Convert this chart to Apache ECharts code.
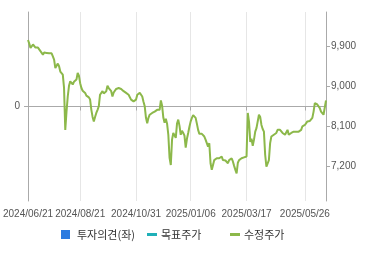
<!DOCTYPE html>
<html>
<head>
<meta charset="utf-8">
<script src="https://cdn.jsdelivr.net/npm/echarts@6/dist/echarts.min.js"></script>
<style>
html,body{margin:0;padding:0;background:#fff;}
#chart{width:370px;height:255px;}
</style>
</head>
<body>
<div id="chart"></div>
<script>
const dates = [
"2024/06/21","2024/06/24","2024/06/25","2024/06/26","2024/06/27","2024/06/28",
"2024/07/01","2024/07/02","2024/07/03","2024/07/04","2024/07/05","2024/07/08","2024/07/09","2024/07/10","2024/07/11","2024/07/12","2024/07/15","2024/07/16","2024/07/17","2024/07/18","2024/07/19","2024/07/22","2024/07/23","2024/07/24","2024/07/25","2024/07/26","2024/07/29","2024/07/30","2024/07/31",
"2024/08/01","2024/08/02","2024/08/05","2024/08/06","2024/08/07","2024/08/08","2024/08/09","2024/08/12","2024/08/13","2024/08/14","2024/08/16","2024/08/19","2024/08/20","2024/08/21","2024/08/22","2024/08/23","2024/08/26","2024/08/27","2024/08/28","2024/08/29","2024/08/30",
"2024/09/02","2024/09/03","2024/09/04","2024/09/05","2024/09/06","2024/09/09","2024/09/10","2024/09/11","2024/09/12","2024/09/13","2024/09/19","2024/09/20","2024/09/23","2024/09/24","2024/09/25","2024/09/26","2024/09/27","2024/09/30",
"2024/10/02","2024/10/04","2024/10/07","2024/10/08","2024/10/10","2024/10/11","2024/10/14","2024/10/15","2024/10/16","2024/10/17","2024/10/18","2024/10/21","2024/10/22","2024/10/23","2024/10/24","2024/10/25","2024/10/28","2024/10/29","2024/10/30","2024/10/31",
"2024/11/01","2024/11/04","2024/11/05","2024/11/06","2024/11/07","2024/11/08","2024/11/11","2024/11/12","2024/11/13","2024/11/14","2024/11/15","2024/11/18","2024/11/19","2024/11/20","2024/11/21","2024/11/22","2024/11/25","2024/11/26","2024/11/27","2024/11/28","2024/11/29",
"2024/12/02","2024/12/03","2024/12/04","2024/12/05","2024/12/06","2024/12/09","2024/12/10","2024/12/11","2024/12/12","2024/12/13","2024/12/16","2024/12/17","2024/12/18","2024/12/19","2024/12/20","2024/12/23","2024/12/24","2024/12/26","2024/12/27","2024/12/30",
"2025/01/02","2025/01/03","2025/01/06","2025/01/07","2025/01/08","2025/01/09","2025/01/10","2025/01/13","2025/01/14","2025/01/15","2025/01/16","2025/01/17","2025/01/20","2025/01/21","2025/01/22","2025/01/23","2025/01/24","2025/01/31",
"2025/02/03","2025/02/04","2025/02/05","2025/02/06","2025/02/07","2025/02/10","2025/02/11","2025/02/12","2025/02/13","2025/02/14","2025/02/17","2025/02/18","2025/02/19","2025/02/20","2025/02/21","2025/02/24","2025/02/25","2025/02/26","2025/02/27","2025/02/28",
"2025/03/04","2025/03/05","2025/03/06","2025/03/07","2025/03/10","2025/03/11","2025/03/12","2025/03/13","2025/03/14","2025/03/17","2025/03/18","2025/03/19","2025/03/20","2025/03/21","2025/03/24","2025/03/25","2025/03/26","2025/03/27","2025/03/28","2025/03/31",
"2025/04/01","2025/04/02","2025/04/03","2025/04/04","2025/04/07","2025/04/08","2025/04/09","2025/04/10","2025/04/11","2025/04/14","2025/04/15","2025/04/16","2025/04/17","2025/04/18","2025/04/21","2025/04/22","2025/04/23","2025/04/24","2025/04/25","2025/04/28","2025/04/29","2025/04/30",
"2025/05/02","2025/05/07","2025/05/08","2025/05/09","2025/05/12","2025/05/13","2025/05/14","2025/05/15","2025/05/16","2025/05/19","2025/05/20","2025/05/21","2025/05/22","2025/05/23","2025/05/26","2025/05/27","2025/05/28","2025/05/29","2025/05/30",
"2025/06/02","2025/06/04","2025/06/05","2025/06/09","2025/06/10","2025/06/11","2025/06/12","2025/06/13","2025/06/16","2025/06/17","2025/06/18","2025/06/19","2025/06/20"
];

const adjPrice = [
10040,9960,9860,9890,9940,9900,9870,9850,9870,9830,
9790,9760,9710,9760,9790,9750,9710,9740,9760,9740,
9670,9600,9410,9460,9510,9450,9330,9300,9260,8970,
8020,8430,8770,9010,9110,9080,9040,9100,9080,9150,
9300,9240,9070,8960,8900,8870,8850,8790,8770,8750,
8700,8470,8310,8210,8310,8400,8470,8550,8810,8850,
8890,8840,8810,8890,9010,8960,8920,8890,8770,8860,
8890,8940,8900,8960,8950,8940,8920,8890,8870,8850,
8850,8810,8770,8700,8680,8660,8660,8700,8810,8830,
8850,8810,8770,8650,8550,8290,8170,8290,8360,8380,
8400,8420,8430,8400,8470,8430,8470,8680,8560,8290,
8180,8270,8160,7910,7390,7230,7800,7950,7980,7840,
8160,8250,8110,7910,8000,7950,7890,7620,7820,7950,
8090,8210,8290,8350,8360,8290,8160,8020,7930,7910,
7930,7920,7870,7800,7720,7640,7720,7270,7120,7230,
7340,7370,7380,7340,7380,7400,7420,7340,7310,7330,
7340,7270,7340,7340,7380,7310,7210,7120,7040,7280,
7340,7310,7380,7380,7400,7420,7420,8400,8200,7750,
7820,7660,7800,7980,8060,8020,8360,8310,8130,8040,
7980,7460,7190,7230,7340,7720,7870,7890,7910,7930,
7950,8020,7980,8020,8000,7950,7980,7910,7950,8020,
7910,7930,7950,7950,7980,7950,7980,8020,7980,7950,
8020,8100,8060,8130,8160,8210,8230,8220,8250,8290,
8430,8620,8660,8590,8620,8510,8430,8400,8360,8320,
8680
];

const opinion = [];      // 투자의견 (no data shown)
const targetPrice = [];  // 목표주가 (no data shown)

const xTickLabels = ["2024/06/21","2024/08/21","2024/10/31","2025/01/06","2025/03/17","2025/05/26"];
const rightTicks = [7200, 8100, 9000, 9900];
const leftTicks = [0];

const chart = echarts.init(document.getElementById('chart'), null, {renderer: 'canvas'});
const numFont = 'Liberation Sans, Arial, sans-serif';
const krFont = '"Noto Sans CJK KR", sans-serif';
const isTick = (i) => xTickLabels.indexOf(dates[i]) >= 0;

chart.setOption({
  animation: false,
  backgroundColor: '#fff',
  grid: {left: 27, right: 44, top: 12, bottom: 54, containLabel: false},
  legend: [
    {left: 61, top: 229, itemWidth: 9, itemHeight: 9, itemGap: 0, padding: 0,
     data: [{name: '투자의견(좌)', icon: 'rect'}],
     textStyle: {fontSize: 11, color: '#333', fontFamily: krFont, padding: [0, 0, 0, 2]}},
    {left: 147, top: 229, itemWidth: 10, itemHeight: 3, itemGap: 0, padding: 0,
     data: [{name: '목표주가', icon: 'rect'}],
     textStyle: {fontSize: 11, color: '#333', fontFamily: krFont, padding: [0, 0, 0, -1]}},
    {left: 230, top: 229, itemWidth: 10, itemHeight: 3, itemGap: 0, padding: 0,
     data: [{name: '수정주가', icon: 'rect'}],
     textStyle: {fontSize: 11, color: '#333', fontFamily: krFont, padding: [0, 0, 0, -1]}}
  ],
  xAxis: {
    type: 'category',
    data: dates,
    boundaryGap: false,
    axisLine: {show: true, lineStyle: {color: '#aaa', width: 1}},
    axisTick: {show: true, length: 4, lineStyle: {color: '#aaa'}, interval: (i) => isTick(i)},
    axisLabel: {show: true, interval: (i) => isTick(i), color: '#555', fontSize: 10, fontFamily: numFont, margin: 8, hideOverlap: false},
    splitLine: {show: true, interval: (i) => isTick(i), lineStyle: {color: '#e6e6e6', width: 1}}
  },
  yAxis: [
    {
      type: 'value', position: 'left', min: -1, max: 1, interval: 1,
      axisLine: {show: true, lineStyle: {color: '#aaa'}},
      axisTick: {show: true, length: 4, lineStyle: {color: '#aaa'}, customValues: leftTicks},
      axisLabel: {show: true, customValues: leftTicks, color: '#555', fontSize: 10, fontFamily: numFont, margin: 8},
      splitLine: {show: true, lineStyle: {color: ['#aaa', '#e6e6e6', '#aaa'], width: 1}}
    },
    {
      type: 'value', position: 'right', min: 6420, max: 10670,
      axisLine: {show: true, lineStyle: {color: '#aaa'}},
      axisTick: {show: true, length: 4, lineStyle: {color: '#aaa'}, customValues: rightTicks},
      axisLabel: {show: true, customValues: rightTicks, color: '#555', fontSize: 10, fontFamily: numFont, margin: 5,
                  formatter: v => Number(v).toLocaleString('en-US')},
      splitLine: {show: false}
    }
  ],
  series: [
    {name: '투자의견(좌)', type: 'bar', yAxisIndex: 0, data: opinion, itemStyle: {color: '#2b7be0'}},
    {name: '목표주가', type: 'line', yAxisIndex: 1, data: targetPrice, symbol: 'none',
     lineStyle: {color: '#1fb0b8', width: 3}, itemStyle: {color: '#1fb0b8'}},
    {name: '수정주가', type: 'line', yAxisIndex: 1, data: adjPrice, symbol: 'none', showSymbol: false,
     lineStyle: {color: '#8cb84a', width: 2}, itemStyle: {color: '#8cb84a'}}
  ]
});
</script>
</body>
</html>
